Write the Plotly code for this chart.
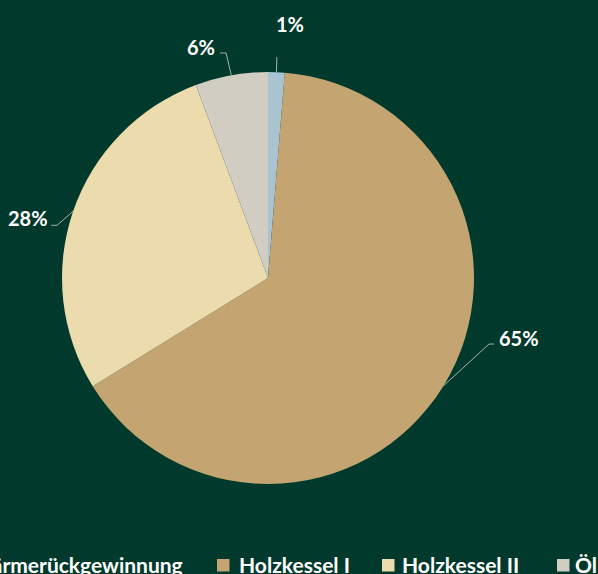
import math
import plotly.graph_objects as go

# ---- data ----
categories = ["Wärmerückgewinnung", "Holzkessel I", "Holzkessel II", "Öl"]
shares = [1.3, 64.9, 28.1, 5.7]
slice_colors = ["#A9C3D0", "#C4A572", "#ECDCAD", "#D1CDC2"]

# ---- layout constants ----
W, H = 598, 574
BG = "#013A2C"
CX, CY, R = 268, 278, 206
FONT = "Lato"

# label connector / text offsets relative to the slice edge point (px)
label_layout = [
    dict(bend=(0.5, -15), end=(0.5, -15), text=(14, -48), anchor="center"),
    dict(bend=(45.4, -41.6), end=(50.4, -41.6), text=(53.5, -48), anchor="left"),
    dict(bend=(-16, 14), end=(-22, 14), text=(-23, 7), anchor="right"),
    dict(bend=(-5.2, -22.3), end=(-11.2, -22.3), text=(-14, -28), anchor="right"),
]

# legend positions (px): text anchor x and side
legend_layout = [
    dict(text_x=185, anchor="right", square_x=None),
    dict(text_x=237, anchor="left", square_x=217),
    dict(text_x=400, anchor="left", square_x=382),
    dict(text_x=573, anchor="left", square_x=557),
]
LEGEND_Y = 564


def px(x):
    return x / W


def py(y):
    return 1 - y / H


fig = go.Figure(
    go.Pie(
        labels=categories,
        values=shares,
        sort=False,
        direction="clockwise",
        rotation=0,
        marker=dict(colors=slice_colors, line=dict(width=0)),
        textinfo="none",
        hoverinfo="label+percent",
        showlegend=False,
        domain=dict(x=[px(CX - R), px(CX + R)], y=[py(CY + R), py(CY - R)]),
    )
)

annotations = []
shapes = []
total = sum(shares)
cum = 0.0
for val, lay in zip(shares, label_layout):
    mid = (cum + val / 2) / total * 2 * math.pi
    cum += val
    ex = CX + R * math.sin(mid)
    ey = CY - R * math.cos(mid)
    bx, by = ex + lay["bend"][0], ey + lay["bend"][1]
    nx, ny = ex + lay["end"][0], ey + lay["end"][1]
    shapes.append(
        dict(
            type="path",
            xref="paper",
            yref="paper",
            path=f"M {px(ex)} {py(ey)} L {px(bx)} {py(by)} L {px(nx)} {py(ny)}",
            line=dict(color="rgba(190,200,195,0.85)", width=1),
        )
    )
    pct = round(val / total * 100)
    annotations.append(
        dict(
            x=px(ex + lay["text"][0]),
            y=py(ey + lay["text"][1]),
            xref="paper",
            yref="paper",
            text=f"<b>{pct}%</b>",
            showarrow=False,
            xanchor=lay["anchor"],
            yanchor="middle",
            font=dict(family=FONT, size=20, color="white"),
        )
    )

for name, col, lay in zip(categories, slice_colors, legend_layout):
    if lay["square_x"] is not None:
        sx = lay["square_x"]
        shapes.append(
            dict(
                type="rect",
                xref="paper",
                yref="paper",
                x0=px(sx),
                x1=px(sx + 12.5),
                y0=py(LEGEND_Y + 7.5),
                y1=py(LEGEND_Y - 5),
                fillcolor=col,
                line=dict(width=0),
            )
        )
    annotations.append(
        dict(
            x=px(lay["text_x"]),
            y=py(LEGEND_Y),
            xref="paper",
            yref="paper",
            text=f"<b>{name}</b>",
            showarrow=False,
            xanchor=lay["anchor"],
            yanchor="middle",
            font=dict(family=FONT, size=21, color="white"),
        )
    )

fig.update_layout(
    width=W,
    height=H,
    margin=dict(l=0, r=0, t=0, b=0),
    paper_bgcolor=BG,
    plot_bgcolor=BG,
    showlegend=False,
    annotations=annotations,
    shapes=shapes,
)

fig.write_html(
    "out.html",
    config={"displayModeBar": False},
    post_script="document.body.style.margin='0';document.body.style.overflow='hidden';",
)
